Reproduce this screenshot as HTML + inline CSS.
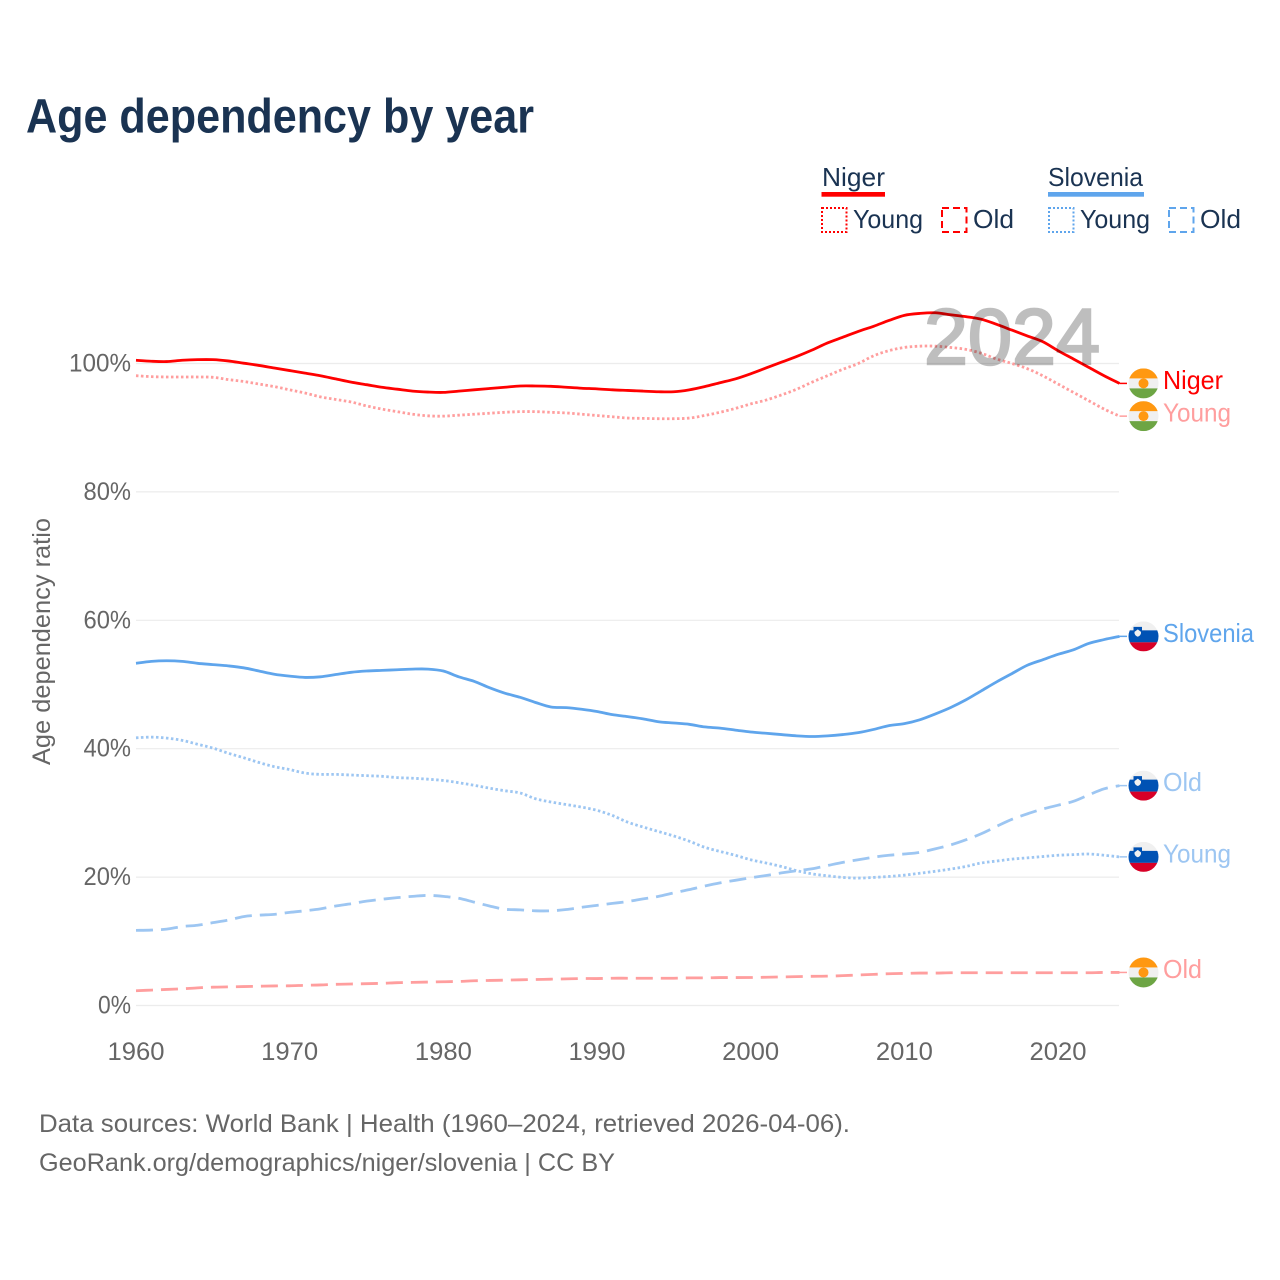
<!DOCTYPE html>
<html lang="en">
<head>
<meta charset="utf-8">
<title>Age dependency by year</title>
<style>
html,body{margin:0;padding:0;background:#fff;width:1280px;height:1280px;overflow:hidden}
svg{display:block}
text{font-family:"Liberation Sans",sans-serif}
</style>
</head>
<body>
<svg id="chart" xmlns="http://www.w3.org/2000/svg" width="1280" height="1280" viewBox="0 0 1280 1280">
  <defs>
    <clipPath id="flag-clip"><circle cx="0" cy="0" r="15"></circle></clipPath>
  </defs>
  <rect x="0" y="0" width="1280" height="1280" fill="#ffffff"></rect>
  <text x="26" y="132.5" font-size="48" font-weight="700" fill="#1a3352" textLength="508" lengthAdjust="spacingAndGlyphs">Age dependency by year</text>

  <g font-size="26" fill="#1a3352">
    <text x="822" y="186" textLength="63" lengthAdjust="spacingAndGlyphs">Niger</text>
    <rect x="821.5" y="192" width="63.5" height="4.7" fill="#ff0000"></rect>
    <rect x="822" y="208" width="24.5" height="24" fill="none" stroke="#ff0000" stroke-width="2" stroke-dasharray="2 2"></rect>
    <text x="853" y="228" textLength="70" lengthAdjust="spacingAndGlyphs">Young</text>
    <rect x="942" y="208" width="24.5" height="24" fill="none" stroke="#ff0000" stroke-width="2" stroke-dasharray="7 4"></rect>
    <text x="973" y="228" textLength="41" lengthAdjust="spacingAndGlyphs">Old</text>
    <text x="1048" y="186" textLength="95" lengthAdjust="spacingAndGlyphs">Slovenia</text>
    <rect x="1048" y="192" width="96" height="4.7" fill="#5fa5ec"></rect>
    <rect x="1049" y="208" width="24.5" height="24" fill="none" stroke="#5fa5ec" stroke-width="2" stroke-dasharray="2 2"></rect>
    <text x="1080" y="228" textLength="70" lengthAdjust="spacingAndGlyphs">Young</text>
    <rect x="1169" y="208" width="24.5" height="24" fill="none" stroke="#5fa5ec" stroke-width="2" stroke-dasharray="7 4"></rect>
    <text x="1200" y="228" textLength="41" lengthAdjust="spacingAndGlyphs">Old</text>
  </g>

  <g id="grid"></g>
  <g id="y-ticks"></g>
  <g id="x-ticks"></g>
  <text transform="translate(50,641.5) rotate(-90)" text-anchor="middle" font-size="25" fill="#666666" textLength="247" lengthAdjust="spacingAndGlyphs">Age dependency ratio</text>
  <g id="series"></g>
  <g id="end-markers"></g>
  <text x="924" y="364" font-size="79" fill="#000000" stroke="#000000" stroke-width="2.4" opacity="0.25" textLength="176" lengthAdjust="spacingAndGlyphs">2024</text>

  <text x="39" y="1132" font-size="25" fill="#666666" textLength="811" lengthAdjust="spacingAndGlyphs">Data sources: World Bank | Health (1960–2024, retrieved 2026-04-06).</text>
  <a><text x="39" y="1171" font-size="25" fill="#666666" textLength="576" lengthAdjust="spacingAndGlyphs">GeoRank.org/demographics/niger/slovenia | CC BY</text></a>
</svg>
<script>
const startYear = 1960;
const xTickYears = [1960, 1970, 1980, 1990, 2000, 2010, 2020];
const yTickValues = [0, 20, 40, 60, 80, 100];

const nigerTotal = [100.5,100.35,100.3,100.5,100.6,100.6,100.4,100.05,99.7,99.3,98.9,98.5,98.1,97.6,97.1,96.7,96.3,96.0,95.7,95.55,95.5,95.7,95.9,96.1,96.3,96.5,96.5,96.45,96.3,96.15,96.05,95.9,95.8,95.7,95.6,95.6,95.9,96.4,97.0,97.6,98.4,99.3,100.2,101.1,102.1,103.2,104.1,105.0,105.8,106.7,107.5,107.8,107.9,107.6,107.3,106.9,106.1,105.2,104.3,103.4,102.0,100.7,99.4,98.1,96.9];
const nigerYoung = [98.1,97.95,97.9,97.9,97.9,97.85,97.5,97.2,96.8,96.4,95.9,95.4,94.8,94.4,94.0,93.4,92.9,92.5,92.1,91.85,91.8,91.95,92.1,92.25,92.4,92.5,92.5,92.4,92.3,92.1,91.9,91.7,91.5,91.45,91.4,91.4,91.5,91.9,92.4,93.0,93.7,94.3,95.1,96.0,97.1,98.1,99.1,100.0,101.2,102.0,102.5,102.7,102.7,102.5,102.2,101.6,100.7,100.0,99.2,98.1,96.8,95.5,94.2,92.9,91.8];
const nigerOld = [2.3,2.4,2.5,2.6,2.75,2.85,2.9,2.95,3.0,3.05,3.07,3.15,3.2,3.3,3.35,3.4,3.45,3.55,3.6,3.65,3.7,3.75,3.85,3.9,3.95,4.0,4.05,4.1,4.15,4.2,4.2,4.25,4.25,4.25,4.25,4.25,4.3,4.3,4.35,4.35,4.36,4.4,4.45,4.5,4.55,4.57,4.65,4.75,4.85,4.95,5.0,5.05,5.05,5.1,5.1,5.1,5.1,5.1,5.1,5.1,5.1,5.1,5.1,5.15,5.15];
const sloveniaTotal = [53.3,53.6,53.7,53.6,53.3,53.1,52.9,52.6,52.1,51.6,51.3,51.1,51.2,51.55,51.9,52.1,52.2,52.3,52.4,52.4,52.1,51.2,50.5,49.5,48.65,48.0,47.2,46.5,46.4,46.15,45.8,45.3,45.0,44.65,44.2,44.0,43.8,43.4,43.2,42.9,42.6,42.4,42.2,42.0,41.9,42.0,42.2,42.5,43.0,43.6,43.9,44.5,45.4,46.4,47.6,49.0,50.4,51.7,53.0,53.85,54.7,55.4,56.4,57.0,57.5];
const sloveniaYoung = [41.7,41.8,41.65,41.3,40.7,40.1,39.3,38.6,37.85,37.2,36.75,36.2,36.0,36.0,35.9,35.8,35.7,35.5,35.4,35.25,35.05,34.7,34.3,33.85,33.45,33.1,32.2,31.7,31.3,30.9,30.4,29.6,28.55,27.8,27.1,26.4,25.6,24.65,24.0,23.4,22.7,22.2,21.65,21.0,20.5,20.2,19.95,19.85,19.95,20.1,20.3,20.6,20.9,21.25,21.65,22.2,22.5,22.8,23.0,23.2,23.4,23.5,23.6,23.4,23.15];
const sloveniaOld = [11.7,11.75,11.9,12.3,12.5,12.9,13.3,13.85,14.07,14.2,14.5,14.75,15.05,15.5,15.85,16.25,16.55,16.8,17.0,17.15,17.0,16.7,16.1,15.5,15.0,14.9,14.75,14.75,14.95,15.3,15.6,15.9,16.2,16.6,17.0,17.55,18.05,18.6,19.1,19.5,19.9,20.25,20.65,21.0,21.3,21.8,22.3,22.7,23.1,23.4,23.6,23.85,24.4,25.0,25.8,26.75,27.9,29.0,29.85,30.6,31.2,31.8,32.8,33.75,34.25];

const SVGNS = 'http://www.w3.org/2000/svg';
function xScale(year) { return 136 + (year - 1960) * 15.367; }
function yScale(v) { return 1005.5 - v * 6.42; }
function mk(tag, attrs, parent) {
  const el = document.createElementNS(SVGNS, tag);
  for (const k in attrs) el.setAttribute(k, attrs[k]);
  parent.appendChild(el);
  return el;
}

const gridG = document.getElementById('grid');
const yTickG = document.getElementById('y-ticks');
yTickValues.forEach(function (v) {
  const line = mk('line', { x1: 136, x2: 1119, y1: yScale(v), y2: yScale(v), stroke: '#ececec', 'stroke-width': 1.2 }, gridG);
  
  
  const label = v + '%';
  const t = mk('text', { x: 131, y: yScale(v) + 8, 'text-anchor': 'end', 'font-size': 25, fill: '#666666', textLength: 14.5 * (label.length - 1) + 18.5, lengthAdjust: 'spacingAndGlyphs' }, yTickG);
  t.textContent = label;
  
  
});

const xTickG = document.getElementById('x-ticks');
xTickYears.forEach(function (yr) {
  const t = mk('text', { x: xScale(yr), y: 1060, 'text-anchor': 'middle', 'font-size': 25, fill: '#666666', textLength: 57, lengthAdjust: 'spacingAndGlyphs' }, xTickG);
  t.textContent = String(yr);
  
  
});

// Smooth path through the yearly values (Catmull-Rom to cubic Bezier).
function linePath(values) {
  const pts = values.map(function (v, i) { return [xScale(startYear + i), yScale(v)]; });
  let d = 'M' + pts[0][0].toFixed(2) + ' ' + pts[0][1].toFixed(2);
  for (let i = 0; i < pts.length - 1; i++) {
    const p0 = pts[Math.max(i - 1, 0)], p1 = pts[i], p2 = pts[i + 1], p3 = pts[Math.min(i + 2, pts.length - 1)];
    const c1x = p1[0] + (p2[0] - p0[0]) / 6, c1y = p1[1] + (p2[1] - p0[1]) / 6;
    const c2x = p2[0] - (p3[0] - p1[0]) / 6, c2y = p2[1] - (p3[1] - p1[1]) / 6;
    d += 'C' + c1x.toFixed(2) + ' ' + c1y.toFixed(2) + ' ' + c2x.toFixed(2) + ' ' + c2y.toFixed(2) + ' ' + p2[0].toFixed(2) + ' ' + p2[1].toFixed(2);
  }
  return d;
}

const seriesG = document.getElementById('series');
function drawLine(values, color, dash, name) {
  const p = mk('path', { d: linePath(values), fill: 'none', stroke: color, 'stroke-width': 2.8, 'stroke-linejoin': 'round' }, seriesG);
  if (dash) p.setAttribute('stroke-dasharray', dash);
  
  
  const endY = yScale(values[values.length - 1]);
  const stub = mk('line', { x1: xScale(startYear + values.length - 1), x2: 1127, y1: endY, y2: endY, stroke: color, 'stroke-width': 1.5 }, seriesG);
  
  
}

const RED = '#ff0000', PINK = '#ff9e9e', BLUE = '#5fa5ec', SKY = '#9dc6f2';
drawLine(nigerOld, PINK, '17 8', 'niger-old-line');
drawLine(sloveniaOld, SKY, '17 8', 'slovenia-old-line');
drawLine(sloveniaYoung, SKY, '2.5 2.5', 'slovenia-young-line');
drawLine(sloveniaTotal, BLUE, null, 'slovenia-total-line');
drawLine(nigerYoung, PINK, '2.5 2.5', 'niger-young-line');
drawLine(nigerTotal, RED, null, 'niger-total-line');

const markerG = document.getElementById('end-markers');
function drawFlagNiger(g) {
  mk('rect', { x: -15, y: -15, width: 30, height: 30, fill: '#f0f0f0' }, g);
  mk('rect', { x: -15, y: -15, width: 30, height: 10, fill: '#ff9811' }, g);
  mk('rect', { x: -15, y: 5, width: 30, height: 10, fill: '#6da544' }, g);
  mk('circle', { cx: 0, cy: 0, r: 5, fill: '#ff9811' }, g);
}
function drawFlagSlovenia(g) {
  mk('rect', { x: -15, y: -15, width: 30, height: 30, fill: '#f0f0f0' }, g);
  mk('rect', { x: -15, y: -6, width: 30, height: 12, fill: '#0052b4' }, g);
  mk('rect', { x: -15, y: 6, width: 30, height: 9, fill: '#d80027' }, g);
  mk('path', { d: 'M-10 -9.5H-1.5V-3.5Q-1.5 0 -5.7 1.5Q-10 0 -10 -3.5Z', fill: '#0052b4' }, g);
  mk('path', { d: 'M-9 -4.5L-5.7 -7L-2.5 -4.5V-3Q-3.2 -0.4 -5.7 0.4Q-8.3 -0.4 -9 -3Z', fill: '#f0f0f0' }, g);
}
function drawMarker(values, flagFn, label, color, labelWidth, name) {
  const endY = yScale(values[values.length - 1]);
  const g = mk('g', { transform: 'translate(1143.5,' + endY.toFixed(2) + ')', 'clip-path': 'url(#flag-clip)' }, markerG);
  
  
  flagFn(g);
  const t = mk('text', { x: 1163, y: endY + 5.5, 'font-size': 26, fill: color, textLength: labelWidth, lengthAdjust: 'spacingAndGlyphs' }, markerG);
  t.textContent = label;
  
  
}
drawMarker(nigerTotal, drawFlagNiger, 'Niger', RED, 60, 'niger-total');
drawMarker(nigerYoung, drawFlagNiger, 'Young', PINK, 68, 'niger-young');
drawMarker(nigerOld, drawFlagNiger, 'Old', PINK, 39, 'niger-old');
drawMarker(sloveniaTotal, drawFlagSlovenia, 'Slovenia', BLUE, 91, 'slovenia-total');
drawMarker(sloveniaOld, drawFlagSlovenia, 'Old', SKY, 39, 'slovenia-old');
drawMarker(sloveniaYoung, drawFlagSlovenia, 'Young', SKY, 68, 'slovenia-young');
</script>
</body>
</html>
